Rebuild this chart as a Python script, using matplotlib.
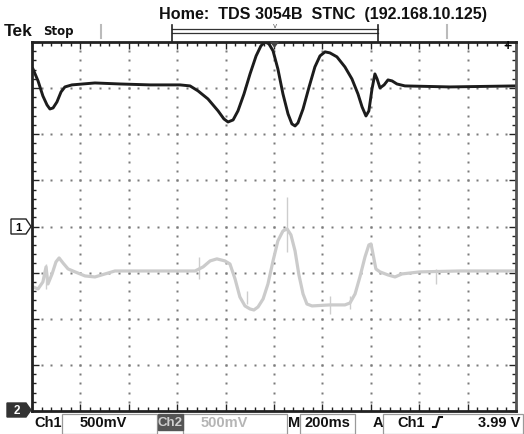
import numpy as np
import matplotlib
matplotlib.use("Agg")
import matplotlib.pyplot as plt
from matplotlib.patches import Rectangle, Polygon

W, H = 524, 435

# --- scope settings ---
ch1_scale = 0.5      # V/div
ch2_scale = 0.5      # V/div
time_scale = 200     # ms/div
ch2_ground_div = -4  # ch2 ground marker at bottom of screen

# --- CH1 (dark trace), time in ms, volts ---
ch1_t = [4, 25, 45, 62, 74, 87, 103, 120, 136, 165, 260, 364, 488, 612, 653, 686,
         727, 769, 793, 810, 831, 851, 876, 901, 926, 946, 963, 979, 996, 1016,
         1037, 1058, 1074, 1087, 1099, 1120, 1145, 1169, 1190, 1211, 1231, 1260,
         1293, 1322, 1347, 1364, 1380, 1392, 1405, 1417, 1426, 1438, 1455, 1471,
         1488, 1508, 1541, 1727, 2000]
ch1_v = [1.708, 1.578, 1.415, 1.318, 1.274, 1.285, 1.350, 1.459, 1.513, 1.535,
         1.556, 1.545, 1.535, 1.535, 1.524, 1.470, 1.383, 1.253, 1.166, 1.133,
         1.155, 1.253, 1.437, 1.654, 1.849, 1.958, 2.001, 1.980, 1.904, 1.708,
         1.437, 1.220, 1.112, 1.090, 1.123, 1.274, 1.513, 1.730, 1.849, 1.893,
         1.882, 1.839, 1.730, 1.600, 1.437, 1.296, 1.198, 1.253, 1.491, 1.654,
         1.600, 1.502, 1.535, 1.589, 1.578, 1.545, 1.524, 1.513, 1.524]

# --- CH2 (light trace), time in ms, volts above ground ---
ch2_t = [4, 25, 45, 58, 66, 83, 99, 112, 128, 149, 178, 219, 260, 302, 343, 446,
         570, 674, 707, 736, 764, 797, 818, 839, 859, 880, 901, 917, 934, 955,
         975, 996, 1016, 1037, 1054, 1070, 1087, 1103, 1120, 1136, 1157, 1231,
         1293, 1314, 1335, 1355, 1376, 1392, 1401, 1409, 1421, 1438, 1471, 1500,
         1529, 1603, 1768, 2000]
ch2_v = [1.345, 1.323, 1.399, 1.562, 1.377, 1.486, 1.616, 1.659, 1.605, 1.540,
         1.508, 1.464, 1.453, 1.486, 1.518, 1.518, 1.518, 1.518, 1.562, 1.627,
         1.649, 1.627, 1.594, 1.432, 1.236, 1.139, 1.106, 1.095, 1.128, 1.215,
         1.377, 1.627, 1.844, 1.952, 1.974, 1.909, 1.735, 1.475, 1.269, 1.160,
         1.139, 1.150, 1.150, 1.171, 1.269, 1.453, 1.670, 1.800, 1.811, 1.703,
         1.540, 1.508, 1.475, 1.453, 1.486, 1.508, 1.518, 1.518]

# short glitches on ch2: time, low, high (volts)
glitch_t = [58, 690, 887, 1054, 1231, 1314, 1670]
glitch_lo = [1.323, 1.432, 1.160, 1.724, 1.052, 1.106, 1.377]
glitch_hi = [1.594, 1.670, 1.296, 2.321, 1.247, 1.247, 1.540]

# --- screen text ---
title = "Home:  TDS 3054B  STNC  (192.168.10.125)"
ch1_label, ch1_sens = "Ch1", "500mV"
ch2_label, ch2_sens = "Ch2", "500mV"
time_label = "200ms"
trig_src, trig_level = "Ch1", "3.99 V"

fig = plt.figure(figsize=(W / 100, H / 100), dpi=100)
fig.patch.set_facecolor("white")


def fx(x):
    return x / W


def fy(y):
    return 1 - y / H


# graticule area in pixels
gl, gr, gt, gb = 32, 516, 43, 412
ax = fig.add_axes([fx(gl), fy(gb), (gr - gl) / W, (gb - gt) / H])
ax.set_xlim(0, 10 * time_scale)
ax.set_ylim(-4, 4)
ax.set_facecolor("white")

# dotted graticule
for k in range(1, 10):
    ys = np.arange(-4, 4.01, 0.2)
    ax.plot(np.full_like(ys, k * time_scale), ys, ls="none", marker="s",
            ms=1.5, mfc="#7a7a7a", mec="none")
for k in range(-3, 4):
    xs = np.arange(0, 2000.1, time_scale / 5)
    ax.plot(xs, np.full_like(xs, k), ls="none", marker="s",
            ms=1.5, mfc="#7a7a7a", mec="none")

ax.set_xticks(np.arange(0, 2001, time_scale))
ax.set_xticks(np.arange(0, 2001, time_scale / 5), minor=True)
ax.set_yticks(np.arange(-4, 5, 1))
ax.set_yticks(np.arange(-4, 4.01, 0.2), minor=True)
ax.tick_params(which="both", direction="in", top=True, right=True,
               labelbottom=False, labelleft=False, color="#222222")
ax.tick_params(which="major", length=5, width=1)
ax.tick_params(which="minor", length=3, width=1)
for side in ax.spines.values():
    side.set_linewidth(2.0)
    side.set_color("#222222")
ax.spines["right"].set_color("#555555")

# traces
ch2_div = [v / ch2_scale + ch2_ground_div for v in ch2_v]
ax.plot(ch2_t, ch2_div, color="#cbcbcb", lw=2.3, solid_joinstyle="round")
ax.vlines(glitch_t, [v / ch2_scale + ch2_ground_div for v in glitch_lo],
          [v / ch2_scale + ch2_ground_div for v in glitch_hi],
          color="#cdcdcd", lw=1.0)
ch1_div = [v / ch1_scale for v in ch1_v]
ax.plot(ch1_t, ch1_div, color="#1c1c1c", lw=2.1, solid_joinstyle="round")

# trigger level marker and position marker
fig.text(fx(508), fy(46), "+", fontsize=10, fontweight="bold", ha="center",
         va="center", family="Liberation Sans")
fig.patches.append(Polygon([[fx(270), fy(43)], [fx(279), fy(43)], [fx(274.5), fy(49)]],
                           closed=True, fc="#444444", ec="none",
                           transform=fig.transFigure))

# header
fig.text(fx(323), fy(14), title, fontsize=11.6, fontweight="bold", ha="center",
         va="center", family="Liberation Sans", color="#111111")
fig.text(fx(4), fy(32), "Tek", fontsize=12.5, fontweight="bold", ha="left",
         va="center", family="Liberation Sans", color="#111111")
fig.text(fx(43), fy(31), "Stop", fontsize=8.5, fontweight="bold", ha="left",
         va="center", family="DejaVu Sans", color="#111111")
fig.lines.append(plt.Line2D([fx(172), fx(378)], [fy(30), fy(30)], color="#333333",
                            lw=0.9, transform=fig.transFigure))
fig.lines.append(plt.Line2D([fx(172), fx(378)], [fy(34), fy(34)], color="#333333",
                            lw=0.9, transform=fig.transFigure))
for xb in (172, 378):
    fig.lines.append(plt.Line2D([fx(xb), fx(xb)], [fy(26), fy(43)], color="#222222",
                                lw=1.2, transform=fig.transFigure))
for xb in (101, 447):
    fig.lines.append(plt.Line2D([fx(xb), fx(xb)], [fy(26), fy(39)], color="#bbbbbb",
                                lw=1.5, transform=fig.transFigure))
fig.text(fx(275), fy(26), "v", fontsize=5, ha="center", va="center",
         color="#555555", family="DejaVu Sans")

# channel markers
fig.patches.append(Polygon([[fx(11), fy(220)], [fx(26), fy(220)], [fx(31), fy(227.5)],
                            [fx(26), fy(235)], [fx(11), fy(235)]], closed=True,
                           fc="white", ec="#222222", lw=1.0, transform=fig.transFigure))
fig.text(fx(18.5), fy(228), "1", fontsize=8, fontweight="bold", ha="center",
         va="center", family="Liberation Sans")
fig.patches.append(Polygon([[fx(7), fy(404)], [fx(26), fy(404)], [fx(31), fy(411)],
                            [fx(26), fy(418)], [fx(7), fy(418)]], closed=True,
                           fc="#333333", ec="#333333", lw=1.0, transform=fig.transFigure))
fig.text(fx(17), fy(411), "2", fontsize=8.5, fontweight="bold", ha="center",
         va="center", family="Liberation Sans", color="white")

# bottom readout
ty = fy(423)
for x0, x1 in ((62, 157), (183, 287), (300, 355), (383, 523)):
    fig.patches.append(Rectangle((fx(x0), 0), fx(x1) - fx(x0), fy(415), fill=False,
                                 ec="#9a9a9a", lw=0.9, transform=fig.transFigure))
fig.patches.append(Rectangle((fx(158), fy(431)), fx(183) - fx(158), fy(415) - fy(431),
                             fc="#555555", ec="#555555", transform=fig.transFigure))
kw = dict(fontsize=10.5, fontweight="bold", va="center", family="Liberation Sans")
fig.text(fx(34), ty, ch1_label, ha="left", color="#111111", **kw)
fig.text(fx(103), ty, ch1_sens, ha="center", color="#111111", **kw)
fig.text(fx(170.5), ty, ch2_label, ha="center", color="#cfcfcf",
         fontsize=9.5, fontweight="bold", va="center", family="Liberation Sans")
fig.text(fx(224), ty, ch2_sens, ha="center", color="#b5b5b5", **kw)
fig.text(fx(294), ty, "M", ha="center", color="#111111", **kw)
fig.text(fx(327), ty, time_label, ha="center", color="#111111", **kw)
fig.text(fx(378), ty, "A", ha="center", color="#111111", **kw)
fig.text(fx(411), ty, trig_src, ha="center", color="#111111", **kw)
fig.lines.append(plt.Line2D([fx(433), fx(436), fx(439), fx(442)],
                            [fy(428), fy(428), fy(418), fy(418)], color="#111111",
                            lw=1.5, transform=fig.transFigure))
fig.text(fx(520), ty, trig_level, ha="right", color="#111111", **kw)

fig.savefig("out.png", dpi=100)
